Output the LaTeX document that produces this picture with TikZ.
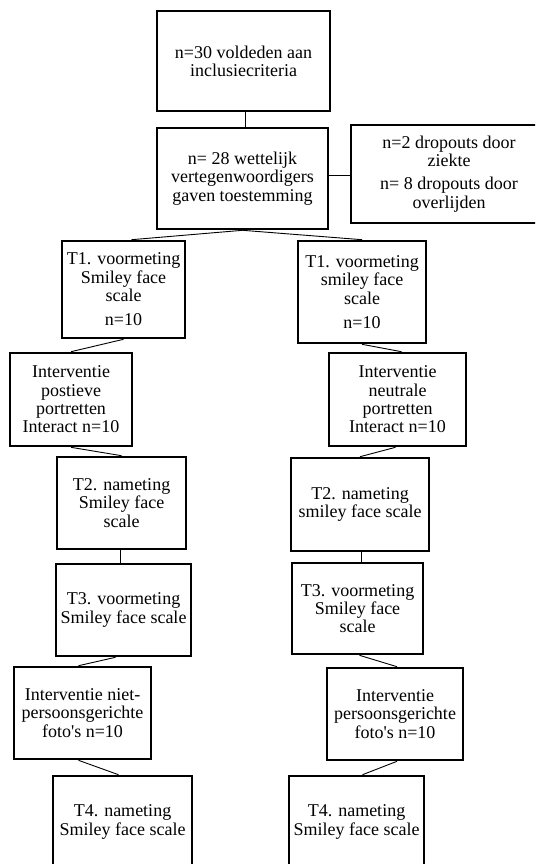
\documentclass[tikz,border=0pt]{standalone}
\usepackage{fontspec}
\setmainfont{Liberation Serif}[Ligatures=TeXOff]
\usetikzlibrary{calc}
\tikzset{
  box/.style={draw=black, line width=2.6pt, fill=white, align=center, inner sep=0pt,
    font=\fontsize{18}{18.3}\selectfont},
  link/.style={draw=black, line width=0.9pt}
}
\begin{document}
\begin{tikzpicture}[x=1pt,y=-1pt]
\useasboundingbox (0,0) rectangle (535,864);
\clip (0,0) rectangle (535,864);
\fill[white] (0,0) rectangle (535,864);
% top
\node[box, minimum width=173pt, minimum height=100pt] (b1) at (243.5,61) {n=30 voldeden aan\\inclusiecriteria};
\node[box, minimum width=171pt, minimum height=101pt] (b2) at (242.5,178.5) {n= 28 wettelijk\\vertegenwoordigers\\gaven toestemming};
\node[box, minimum width=196pt, minimum height=98pt] (drop) at (449,174) {n=2 dropouts door\\ziekte\\[5pt]n= 8 dropouts door\\overlijden};
% left column
\node[box, minimum width=123pt, minimum height=97pt] (t1l) at (123.5,289.5) {T1. voormeting\\Smiley face\\scale\\[6pt]n=10};
\node[box, minimum width=122pt, minimum height=93pt] (ila) at (71,399.5) {Interventie\\postieve\\portretten\\Interact n=10};
\node[box, minimum width=129pt, minimum height=92pt] (t2l) at (121.5,503) {T2. nameting\\Smiley face\\scale};
\node[box, minimum width=135pt, minimum height=92pt] (t3l) at (123.5,610) {T3. voormeting\\Smiley face scale};
\node[box, minimum width=137pt, minimum height=92pt] (ilb) at (82.5,713) {Interventie niet-\\persoonsgerichte\\foto's n=10};
\node[box, minimum width=139pt, minimum height=92pt] (t4l) at (122.5,822) {T4. nameting\\Smiley face scale};
% right column
\node[box, minimum width=128pt, minimum height=102pt] (t1r) at (362,292) {T1. voormeting\\smiley face\\scale\\[6pt]n=10};
\node[box, minimum width=137pt, minimum height=93pt] (ira) at (397.5,399.5) {Interventie\\neutrale\\portretten\\Interact n=10};
\node[box, minimum width=138pt, minimum height=93pt] (t2r) at (360,504.5) {T2. nameting\\smiley face scale};
\node[box, minimum width=131pt, minimum height=91pt] (t3r) at (357.5,608.5) {T3. voormeting\\Smiley face\\scale};
\node[box, minimum width=136pt, minimum height=92pt] (irb) at (395,714) {Interventie\\persoonsgerichte\\foto's n=10};
\node[box, minimum width=135pt, minimum height=92pt] (t4r) at (356.5,822) {T4. nameting\\Smiley face scale};
% connectors
\draw[link] ([xshift=1.5pt]b1.south) -- ([xshift=1.5pt]b1.south |- b2.north);
\draw[link] (drop.west |- 0,175) coordinate (dj) -- (dj -| b2.east);
\draw[link] (b2.south) -- ([xshift=8pt]t1l.north);
\draw[link] (b2.south) -- (t1r.north);
\draw[link] (t1l.south) -- (ila.north);
\draw[link] (t1r.south) -- ([xshift=4pt]ira.north);
\draw[link] (ila.south) -- (t2l.north);
\draw[link] ([xshift=-2pt]ira.south) -- (t2r.north);
\draw[link] ([xshift=-1.5pt]t2l.south) -- ([xshift=-1.5pt]t2l.south |- t3l.north);
\draw[link] ([xshift=1pt]t2r.south) -- ([xshift=1pt]t2r.south |- t3r.north);
\draw[link] ([xshift=-8pt]t3l.south) -- ([xshift=-4pt]ilb.north);
\draw[link] ([xshift=2pt]t3r.south) -- ([xshift=2pt]irb.north);
\draw[link] ([xshift=-4pt]ilb.south) -- ([xshift=-4pt]t4l.north);
\draw[link] ([xshift=2pt]irb.south) -- ([xshift=6pt]t4r.north);
\end{tikzpicture}
\end{document}
